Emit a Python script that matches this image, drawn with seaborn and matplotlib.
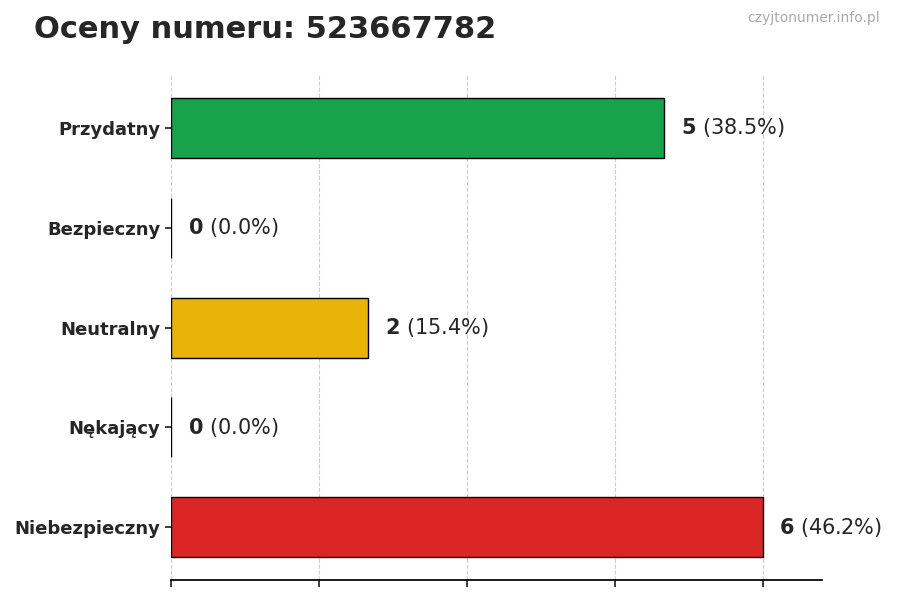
import matplotlib
matplotlib.use("Agg")
import matplotlib.pyplot as plt
import seaborn as sns
import pandas as pd

# Dane wykresu
categories = ["Przydatny", "Bezpieczny", "Neutralny", "Nękający", "Niebezpieczny"]
counts = [5, 0, 2, 0, 6]
colors = ["#16a34a", "#9ca3af", "#eab308", "#f97316", "#dc2626"]
number = "523667782"

sns.set_theme(style="white")
plt.rcParams['font.family'] = ['DejaVu Sans']

total = sum(counts)
df = pd.DataFrame({"kategoria": categories, "liczba": counts})

fig = plt.figure(figsize=(9, 6), dpi=100)
ax = fig.add_axes([0.19, 0.033, 0.723, 0.842])
sns.barplot(data=df, x="liczba", y="kategoria", hue="kategoria", palette=colors,
            width=0.6, edgecolor="black", linewidth=1, legend=False, ax=ax, saturation=1)

for i, c in enumerate(counts):
    pct = c / total * 100
    ax.annotate(f"$\\bf{{{c}}}$ ({pct:.1f}%)", (c, i), xytext=(12, 0),
                textcoords="offset points", va="center", ha="left", fontsize=15)

ax.set_xlim(0, 6.6)
ax.set_ylim(4.53, -0.53)
ax.set_xticks([0, 1.5, 3, 4.5, 6])
ax.set_xticklabels([])
ax.tick_params(axis="x", length=5, bottom=True)
ax.tick_params(axis="y", length=4, left=True, labelsize=13)
for lbl in ax.get_yticklabels():
    lbl.set_fontweight("bold")
ax.set_xlabel("")
ax.set_ylabel("")
ax.grid(axis="x", linestyle="--", color="#cccccc", linewidth=0.8)
ax.set_axisbelow(True)
for s in ["top", "right", "left"]:
    ax.spines[s].set_visible(False)
ax.spines["bottom"].set_color("black")

fig.text(0.038, 0.95, f"Oceny numeru: {number}", fontsize=22, fontweight="bold", va="center")
fig.text(0.978, 0.97, "czyjtonumer.info.pl", fontsize=10, color="#aaaaaa", ha="right", va="center")

fig.savefig("out.png")
